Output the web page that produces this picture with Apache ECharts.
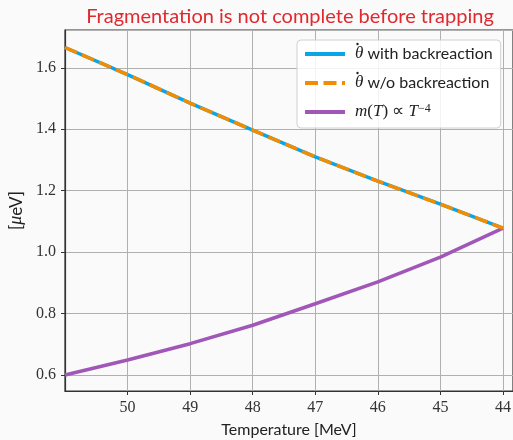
<!DOCTYPE html>
<html>
<head>
<meta charset="utf-8">
<style>
  html, body { margin: 0; padding: 0; background: #fafafa; }
  #chart { width: 513px; height: 440px; }
</style>
<script src="https://cdn.jsdelivr.net/npm/echarts@6/dist/echarts.min.js"></script>
</head>
<body>
<div id="chart"></div>
<script>
// Temperature samples [MeV]
const temperature = [51, 50, 49, 48, 47, 46, 45, 44];
// Axion-like mass estimates [μeV]
const thetaDotWithBackreaction = [1.666, 1.578, 1.485, 1.397, 1.310, 1.231, 1.156, 1.078];
const thetaDotWithoutBackreaction = [1.666, 1.578, 1.485, 1.397, 1.310, 1.231, 1.156, 1.078];
const massPowerLaw = [0.600, 0.649, 0.702, 0.762, 0.832, 0.903, 0.984, 1.078];

const seriesNames = ['withBR', 'withoutBR', 'powerLaw'];
const legendLabels = {
  withBR: '{m0|θ}{t| with backreaction}',
  withoutBR: '{m0|θ}{t| w/o backreaction}',
  powerLaw: '{m0|m}{r|(}{m|T}{r|) ∝ }{m|T}{sup|−4}'
};

const pairs = (ys) => temperature.map((t, i) => [t, ys[i]]);

const serif = 'Liberation Serif';
const sans = 'Lato';

// legend box geometry
const LEG_LEFT = 297, LEG_TOP = 40, LEG_PAD = [5, 8, 7, 6];
const ROW_H = 18, ROW_GAP = 11, ICON_W = 40, TEXT_PAD = 5;

// accent dots over the θ glyphs of the first two legend rows (time derivative)
const dotX = LEG_LEFT + LEG_PAD[3] + ICON_W + 5 + TEXT_PAD + 4.5;
const dotGraphics = [0, 1].map((row) => ({
  type: 'circle',
  shape: { cx: dotX, cy: LEG_TOP + LEG_PAD[0] + ROW_H / 2 + row * (ROW_H + ROW_GAP) - 10, r: 1.2 },
  style: { fill: '#222' },
  z: 100
}));

const chart = echarts.init(document.getElementById('chart'), null, { renderer: 'canvas' });

chart.setOption({
  backgroundColor: '#fafafa',
  animation: false,
  title: {
    text: 'Fragmentation is not complete before trapping',
    left: 285, top: 2, textAlign: 'center',
    textStyle: { color: '#e0282e', fontFamily: sans, fontSize: 20, fontWeight: 'normal' }
  },
  grid: {
    left: 65, right: 0, top: 30, bottom: 49,
    containLabel: false, outerBoundsMode: 'none',
    show: true, backgroundColor: '#fafafa', borderColor: '#333', borderWidth: 1.2
  },
  graphic: dotGraphics,
  legend: {
    orient: 'vertical',
    left: LEG_LEFT, top: LEG_TOP,
    data: seriesNames,
    itemWidth: ICON_W, itemHeight: 14, itemGap: ROW_GAP,
    padding: LEG_PAD,
    backgroundColor: 'rgba(255,255,255,0.85)',
    borderColor: '#d0d0d0', borderWidth: 1, borderRadius: 4,
    itemStyle: { opacity: 0, borderWidth: 0 },
    lineStyle: { width: 4 },
    formatter: (name) => legendLabels[name],
    textStyle: {
      fontFamily: sans, fontSize: 16, color: '#222', lineHeight: ROW_H,
      rich: {
        t: { fontFamily: sans, fontSize: 16, color: '#222', lineHeight: ROW_H },
        m0: { fontFamily: serif, fontStyle: 'italic', fontSize: 17, color: '#222',
              lineHeight: ROW_H, padding: [0, 0, 0, TEXT_PAD] },
        m: { fontFamily: serif, fontStyle: 'italic', fontSize: 17, color: '#222', lineHeight: ROW_H },
        r: { fontFamily: serif, fontSize: 17, color: '#222', lineHeight: ROW_H },
        sup: { fontFamily: serif, fontSize: 12, color: '#222', verticalAlign: 'top', lineHeight: 12 }
      }
    }
  },
  xAxis: {
    type: 'value', inverse: true, min: 43.84, max: 51, splitNumber: 7,
    name: 'Temperature [MeV]', nameLocation: 'middle', nameGap: 31,
    nameTextStyle: { fontFamily: sans, fontSize: 16, color: '#222' },
    axisLine: { show: true, lineStyle: { color: '#333', width: 1.2 } },
    axisTick: { show: true, length: 4, lineStyle: { color: '#333' } },
    axisLabel: { showMinLabel: false, showMaxLabel: false, margin: 9,
      fontFamily: serif, fontSize: 16, color: '#333' },
    splitLine: { show: true, lineStyle: { color: '#b0b0b0', width: 1 } }
  },
  yAxis: {
    type: 'value', min: 0.548, max: 1.723, splitNumber: 5,
    name: '{b|[}{m|μ}{b|eV]}', nameLocation: 'middle', nameGap: 36,
    nameTextStyle: {
      rich: {
        b: { fontFamily: sans, fontSize: 17, color: '#222' },
        m: { fontFamily: serif, fontStyle: 'italic', fontSize: 18, color: '#222' }
      }
    },
    axisLine: { show: true, lineStyle: { color: '#333', width: 1.2 } },
    axisTick: { show: true, length: 4, lineStyle: { color: '#333' } },
    axisLabel: { showMinLabel: false, showMaxLabel: false, margin: 9,
      fontFamily: serif, fontSize: 16, color: '#333',
      formatter: (v) => v.toFixed(1) },
    splitLine: { show: true, lineStyle: { color: '#b0b0b0', width: 1 } }
  },
  series: [
    {
      name: 'withBR', type: 'line', data: pairs(thetaDotWithBackreaction),
      showSymbol: false, symbol: 'none', z: 3,
      lineStyle: { color: '#0aa5e6', width: 3.5 }, itemStyle: { color: '#0aa5e6' }
    },
    {
      name: 'withoutBR', type: 'line', data: pairs(thetaDotWithoutBackreaction),
      showSymbol: false, symbol: 'none', z: 4,
      lineStyle: { color: '#f28c00', width: 3.5, type: [13, 5.5] }, itemStyle: { color: '#f28c00' }
    },
    {
      name: 'powerLaw', type: 'line', data: pairs(massPowerLaw),
      showSymbol: false, symbol: 'none', z: 3,
      lineStyle: { color: '#a157b8', width: 3.5 }, itemStyle: { color: '#a157b8' }
    }
  ]
});
</script>
</body>
</html>
